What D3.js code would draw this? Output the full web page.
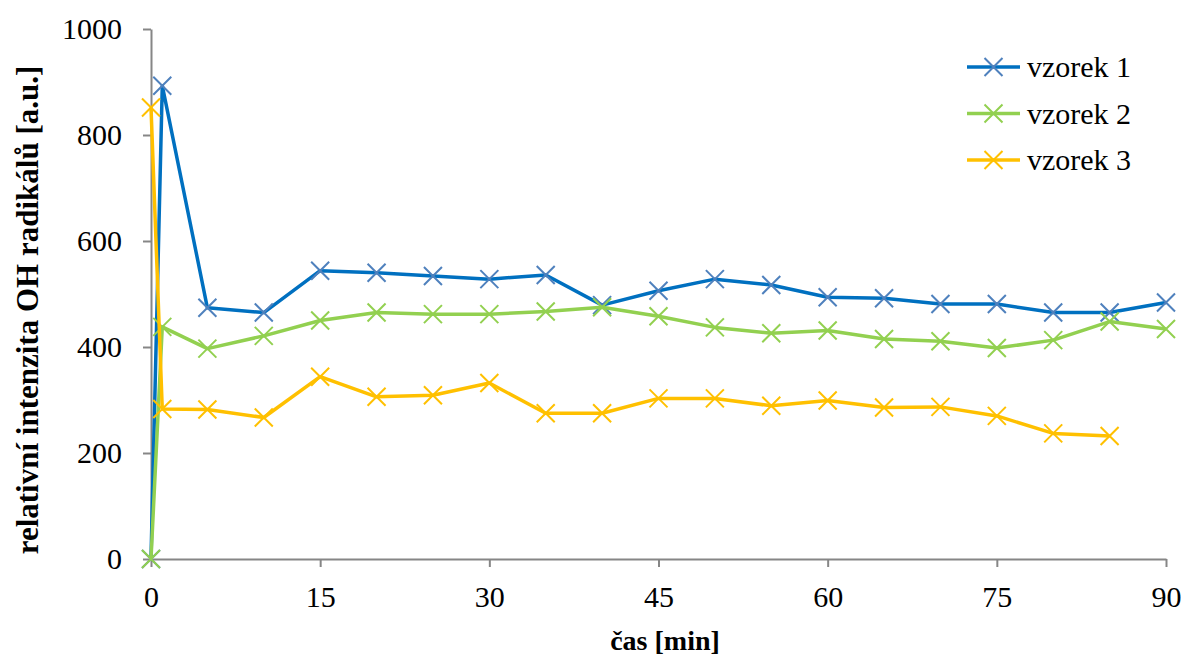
<!DOCTYPE html>
<html>
<head>
<meta charset="utf-8">
<script src="https://cdn.jsdelivr.net/npm/d3@7"></script>
<style>
body { margin:0; background:#fff; }
</style>
</head>
<body>
<div id="chart"></div>
<script>
// data
var cas = [0, 1, 5, 10, 15, 20, 25, 30, 35, 40, 45, 50, 55, 60, 65, 70, 75, 80, 85, 90];
var vzorek1 = [0, 893, 474, 465, 544, 540, 534, 528, 536, 479, 506, 528, 517, 494, 492, 481, 481, 465, 465, 484];
var vzorek2 = [0, 438, 397, 421, 450, 465, 462, 462, 467, 475, 458, 437, 426, 431, 415, 411, 398, 413, 448, 434];
var vzorek3 = [852, 283, 282, 267, 344, 306, 309, 332, 275, 275, 303, 303, 289, 299, 286, 287, 270, 237, 232, null];
var seriesNames = ["vzorek 1", "vzorek 2", "vzorek 3"];
var xTicks = [0, 15, 30, 45, 60, 75, 90];
var yTicks = [0, 200, 400, 600, 800, 1000];

var w = 1186, h = 658;
var margins = {top:29, bottom:99, left:151, right:20};
var serif = "Liberation Serif";

var series = [
  {name: seriesNames[0], values: vzorek1, line: "#0070C0", mark: "#4F81BD"},
  {name: seriesNames[1], values: vzorek2, line: "#92D050", mark: "#92D050"},
  {name: seriesNames[2], values: vzorek3, line: "#FFC000", mark: "#FFC000"}
];

var xScale = d3.scaleLinear().domain([0, 90]).range([margins.left, w - margins.right]);
var yScale = d3.scaleLinear().domain([0, 1000]).range([h - margins.bottom, margins.top]);

var svg = d3.select("#chart").append("svg")
  .attr("width", w)
  .attr("height", h)
  .attr("font-family", serif);

// axes
var xAxis = d3.axisBottom(xScale).tickValues(xTicks).tickSize(8).tickSizeOuter(0).tickPadding(19).tickFormat(d3.format("d"));
var yAxis = d3.axisLeft(yScale).tickValues(yTicks).tickSize(8).tickSizeOuter(0).tickPadding(21).tickFormat(d3.format("d"));

var gx = svg.append("g")
  .attr("transform", "translate(0," + (h - margins.bottom) + ")")
  .call(xAxis);
var gy = svg.append("g")
  .attr("transform", "translate(" + margins.left + ",0)")
  .call(yAxis);

[gx, gy].forEach(function(g) {
  g.attr("font-family", serif).attr("font-size", 30);
  g.selectAll("path, line").attr("stroke", "#868686").attr("stroke-width", 2);
  g.selectAll("text").attr("font-family", serif).attr("font-size", 30).attr("fill", "#000");
});

// lines
var line = d3.line()
  .defined(function(d) { return d[1] != null; })
  .x(function(d) { return xScale(d[0]); })
  .y(function(d) { return yScale(d[1]); });

function crossPath(cx, cy, r) {
  return "M" + (cx - r) + "," + (cy - r) + "L" + (cx + r) + "," + (cy + r) +
         "M" + (cx - r) + "," + (cy + r) + "L" + (cx + r) + "," + (cy - r);
}

series.forEach(function(s) {
  var pts = cas.map(function(t, i) { return [t, s.values[i]]; });
  svg.append("path")
    .datum(pts)
    .attr("fill", "none")
    .attr("stroke", s.line)
    .attr("stroke-width", 3.5)
    .attr("stroke-linejoin", "round")
    .attr("d", line);
  svg.append("g").selectAll("path")
    .data(pts.filter(function(d) { return d[1] != null; }))
    .enter()
    .append("path")
    .attr("fill", "none")
    .attr("stroke", s.mark)
    .attr("stroke-width", 2)
    .attr("d", function(d) { return crossPath(xScale(d[0]), yScale(d[1]), 9); });
});

// axis titles
svg.append("text")
  .text("čas [min]")
  .attr("text-anchor", "middle")
  .attr("x", 665)
  .attr("y", 650)
  .attr("font-family", serif)
  .attr("font-size", 28)
  .attr("font-weight", "bold");

svg.append("text")
  .text("relativní intenzita OH radikálů [a.u.]")
  .attr("text-anchor", "middle")
  .attr("transform", "translate(38," + 310 + ") rotate(-90)")
  .attr("font-family", serif)
  .attr("font-size", 31)
  .attr("font-weight", "bold");

// legend
var legend = svg.append("g");
series.forEach(function(s, i) {
  var ly = 67 + i * 46.5;
  legend.append("line")
    .attr("x1", 967).attr("x2", 1020)
    .attr("y1", ly).attr("y2", ly)
    .attr("stroke", s.line).attr("stroke-width", 3.5);
  legend.append("path")
    .attr("fill", "none")
    .attr("stroke", s.mark)
    .attr("stroke-width", 2)
    .attr("d", crossPath(993.5, ly, 9));
  legend.append("text")
    .text(s.name)
    .attr("x", 1027)
    .attr("y", ly + 10)
    .attr("font-family", serif)
    .attr("font-size", 30);
});
</script>
</body>
</html>
